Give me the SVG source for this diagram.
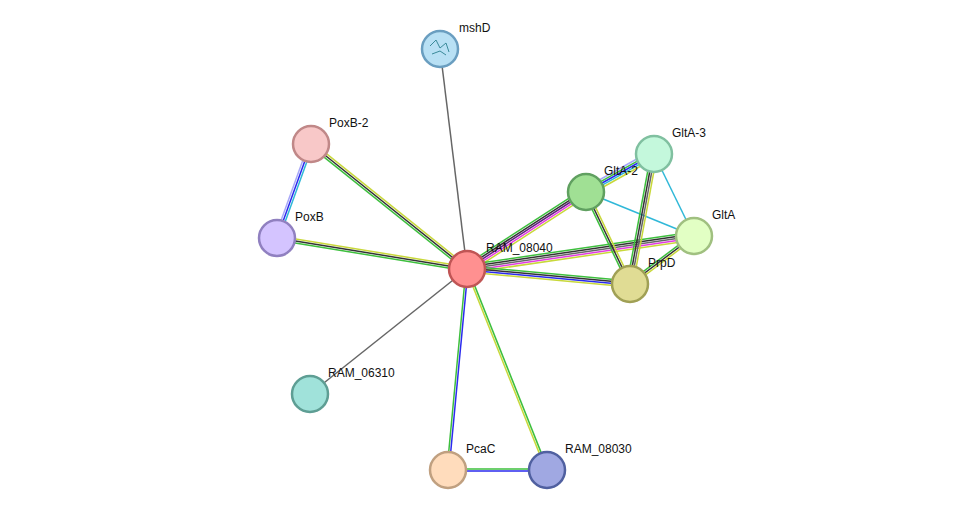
<svg xmlns="http://www.w3.org/2000/svg" width="975" height="516" viewBox="0 0 975 516">
<style>
line{stroke-width:1.5}
.k{stroke:#333}.g{stroke:#3dbf3d}.y{stroke:#c8d83a}.b{stroke:#2a2aee}.m{stroke:#e23ae2}.c{stroke:#30b8d8}.l{stroke:#a8a8f8}.p{stroke:#602080}.gr{stroke:#666}
circle{stroke-width:2.5}
text{font-family:"Liberation Sans",Arial,sans-serif;font-size:12px;fill:#111}
</style>
<rect width="975" height="516" fill="#fff"/>
<g id="edges">
<line class="gr" x1="467" y1="269" x2="440" y2="49"/>
<line class="gr" x1="467" y1="269" x2="310" y2="394"/>
<line class="y" transform="translate(1.3,-1.6)" x1="467" y1="269" x2="311" y2="144"/>
<line class="k" x1="467" y1="269" x2="311" y2="144"/>
<line class="g" transform="translate(-1.3,1.6)" x1="467" y1="269" x2="311" y2="144"/>
<line class="y" transform="translate(0.3,-2)" x1="467" y1="269" x2="277" y2="238"/>
<line class="k" x1="467" y1="269" x2="277" y2="238"/>
<line class="g" transform="translate(-0.3,2)" x1="467" y1="269" x2="277" y2="238"/>
<line class="l" transform="translate(-2,-0.7)" x1="277" y1="238" x2="311" y2="144"/>
<line class="b" x1="277" y1="238" x2="311" y2="144"/>
<line class="c" transform="translate(2,0.7)" x1="277" y1="238" x2="311" y2="144"/>
<line class="g" transform="translate(-2.2,-3.4)" x1="467" y1="269" x2="586" y2="192"/>
<line class="k" transform="translate(-1.1,-1.7)" x1="467" y1="269" x2="586" y2="192"/>
<line class="p" x1="467" y1="269" x2="586" y2="192"/>
<line class="m" transform="translate(1.1,1.7)" x1="467" y1="269" x2="586" y2="192"/>
<line class="y" transform="translate(2.2,3.4)" x1="467" y1="269" x2="586" y2="192"/>
<line class="g" transform="translate(-0.6,-4)" x1="467" y1="269" x2="694" y2="236"/>
<line class="k" transform="translate(-0.3,-2)" x1="467" y1="269" x2="694" y2="236"/>
<line class="gr" x1="467" y1="269" x2="694" y2="236"/>
<line class="m" transform="translate(0.3,2)" x1="467" y1="269" x2="694" y2="236"/>
<line class="y" transform="translate(0.6,4)" x1="467" y1="269" x2="694" y2="236"/>
<line class="g" transform="translate(0.3,-3)" x1="467" y1="269" x2="630" y2="284"/>
<line class="k" transform="translate(0.1,-1)" x1="467" y1="269" x2="630" y2="284"/>
<line class="b" transform="translate(-0.1,1)" x1="467" y1="269" x2="630" y2="284"/>
<line class="y" transform="translate(-0.3,3)" x1="467" y1="269" x2="630" y2="284"/>
<line class="g" transform="translate(-1,0)" x1="467" y1="269" x2="448" y2="470"/>
<line class="b" transform="translate(1,0)" x1="467" y1="269" x2="448" y2="470"/>
<line class="y" transform="translate(-0.9,0.4)" x1="467" y1="269" x2="547" y2="470"/>
<line class="g" transform="translate(0.9,-0.4)" x1="467" y1="269" x2="547" y2="470"/>
<line class="g" transform="translate(0,-1)" x1="448" y1="470" x2="547" y2="470"/>
<line class="b" transform="translate(0,1)" x1="448" y1="470" x2="547" y2="470"/>
<line class="l" transform="translate(-2,-3.5)" x1="586" y1="192" x2="654" y2="154"/>
<line class="g" transform="translate(-1,-1.7)" x1="586" y1="192" x2="654" y2="154"/>
<line class="b" x1="586" y1="192" x2="654" y2="154"/>
<line class="c" transform="translate(1,1.7)" x1="586" y1="192" x2="654" y2="154"/>
<line class="y" transform="translate(2,3.5)" x1="586" y1="192" x2="654" y2="154"/>
<line class="c" x1="586" y1="192" x2="694" y2="236"/>
<line class="c" x1="654" y1="154" x2="694" y2="236"/>
<line class="g" transform="translate(-1.8,0.9)" x1="586" y1="192" x2="630" y2="284"/>
<line class="k" x1="586" y1="192" x2="630" y2="284"/>
<line class="y" transform="translate(1.8,-0.9)" x1="586" y1="192" x2="630" y2="284"/>
<line class="g" transform="translate(-3,-0.5)" x1="654" y1="154" x2="630" y2="284"/>
<line class="k" transform="translate(-1,-0.2)" x1="654" y1="154" x2="630" y2="284"/>
<line class="gr" transform="translate(1,0.2)" x1="654" y1="154" x2="630" y2="284"/>
<line class="y" transform="translate(3,0.5)" x1="654" y1="154" x2="630" y2="284"/>
<line class="g" transform="translate(-1.2,-1.6)" x1="694" y1="236" x2="630" y2="284"/>
<line class="k" x1="694" y1="236" x2="630" y2="284"/>
<line class="y" transform="translate(1.2,1.6)" x1="694" y1="236" x2="630" y2="284"/>
</g>
<g id="mshD"><circle cx="440" cy="49" r="18" fill="#b8e0f4" stroke="#6a9ec0"/><path d="M430 46 l6 -6 l4 8 l6 -5 l3 9 M432 54 l8 -3 l6 4" stroke="#3a8a9a" stroke-width="1" fill="none"/><text x="459" y="32">mshD</text></g>
<g id="RAM_08040"><circle cx="467" cy="269" r="18" fill="#ff9090" stroke="#c05555"/><text x="486" y="252">RAM_08040</text></g>
<g id="PoxB-2"><circle cx="311" cy="144" r="18" fill="#f8c8c8" stroke="#c08888"/><text x="329" y="127">PoxB-2</text></g>
<g id="PoxB"><circle cx="277" cy="238" r="18" fill="#d4c4ff" stroke="#9080c0"/><text x="295" y="221">PoxB</text></g>
<g id="GltA-3"><circle cx="654" cy="154" r="18" fill="#c4f8dc" stroke="#80c0a0"/><text x="672" y="137">GltA-3</text></g>
<g id="GltA-2"><circle cx="586" cy="192" r="18" fill="#a0e094" stroke="#60a060"/><text x="604" y="175">GltA-2</text></g>
<g id="GltA"><circle cx="694" cy="236" r="18" fill="#e2ffc4" stroke="#a0c080"/><text x="712" y="219">GltA</text></g>
<g id="PrpD"><circle cx="630" cy="284" r="18" fill="#e0dc94" stroke="#a0a055"/><text x="648" y="267">PrpD</text></g>
<g id="RAM_06310"><circle cx="310" cy="394" r="18" fill="#a0e2da" stroke="#5e9e94"/><text x="328" y="377">RAM_06310</text></g>
<g id="PcaC"><circle cx="448" cy="470" r="18" fill="#ffdcbc" stroke="#c0a080"/><text x="466" y="453">PcaC</text></g>
<g id="RAM_08030"><circle cx="547" cy="470" r="18" fill="#a0a8e2" stroke="#5060a0"/><text x="565" y="453">RAM_08030</text></g>
</svg>
